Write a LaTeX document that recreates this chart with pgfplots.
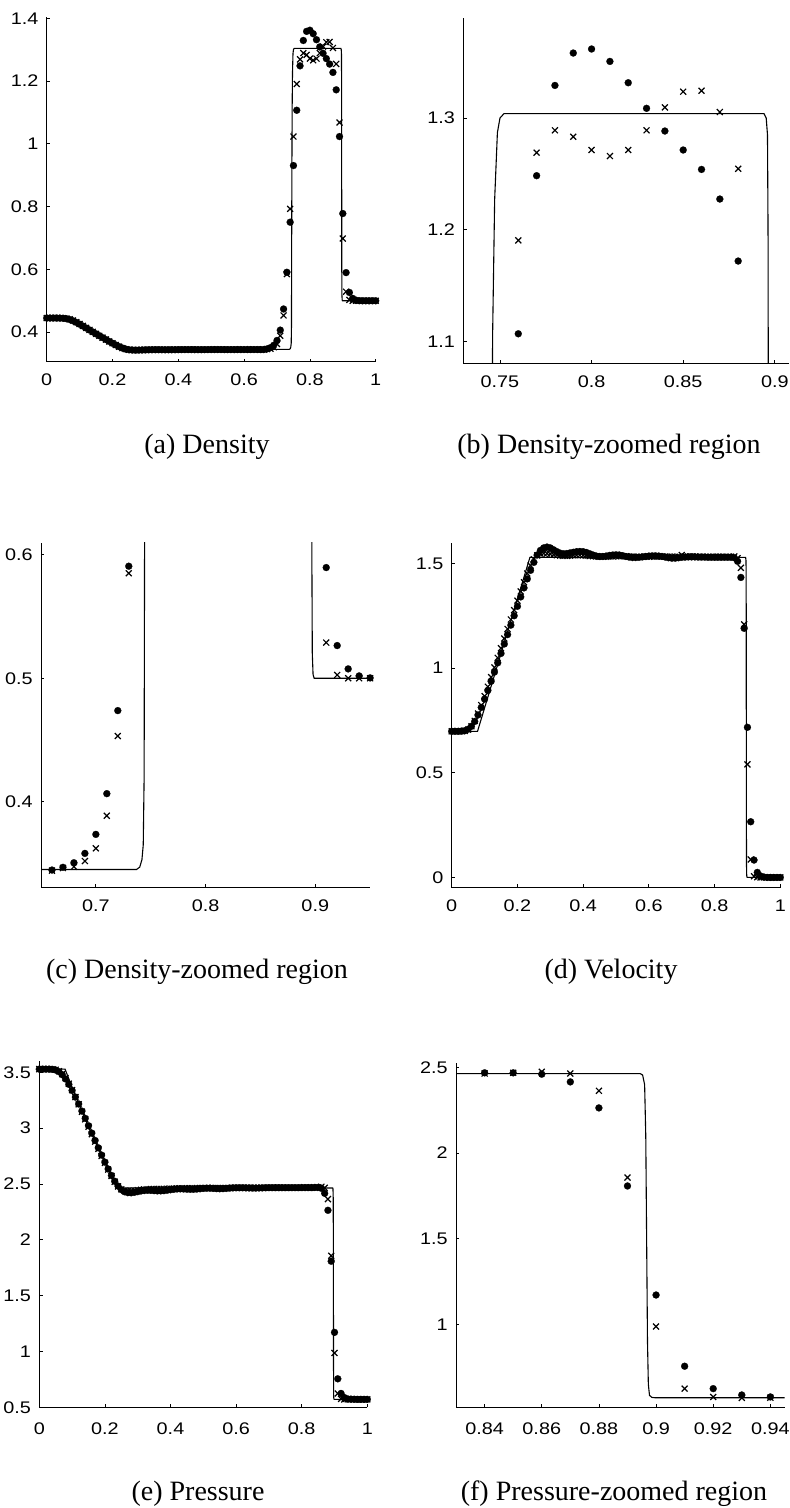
\documentclass[border=0pt]{standalone}
\usepackage{pgfplots}
\pgfplotsset{compat=1.18}
\usepackage{pgfplotstable}
\usepackage{fontspec}
\setmainfont{Liberation Serif}
\newfontfamily\ticksans{Liberation Sans}

\pgfplotstableread{
x rd rc ud uc pd pc
0.00 0.4450 0.4450 0.698 0.698 3.528 3.528
0.01 0.4450 0.4450 0.698 0.698 3.528 3.528
0.02 0.4450 0.4450 0.698 0.698 3.528 3.528
0.03 0.4450 0.4450 0.699 0.698 3.528 3.528
0.04 0.4448 0.4449 0.701 0.700 3.526 3.527
0.05 0.4442 0.4445 0.708 0.706 3.520 3.523
0.06 0.4428 0.4435 0.722 0.722 3.505 3.510
0.07 0.4402 0.4412 0.745 0.748 3.478 3.485
0.08 0.4362 0.4372 0.776 0.783 3.440 3.448
0.09 0.4312 0.4320 0.812 0.823 3.392 3.398
0.10 0.4255 0.4262 0.852 0.866 3.337 3.340
0.11 0.4194 0.4200 0.893 0.911 3.278 3.278
0.12 0.4132 0.4136 0.937 0.957 3.216 3.213
0.13 0.4070 0.4072 0.981 1.003 3.152 3.146
0.14 0.4008 0.4009 1.025 1.049 3.087 3.079
0.15 0.3946 0.3946 1.070 1.095 3.021 3.012
0.16 0.3885 0.3884 1.115 1.141 2.955 2.945
0.17 0.3825 0.3823 1.160 1.187 2.889 2.879
0.18 0.3765 0.3763 1.205 1.232 2.823 2.814
0.19 0.3706 0.3704 1.250 1.277 2.758 2.750
0.20 0.3648 0.3646 1.295 1.322 2.695 2.688
0.21 0.3592 0.3590 1.340 1.366 2.634 2.628
0.22 0.3540 0.3537 1.383 1.410 2.576 2.571
0.23 0.3495 0.3491 1.426 1.452 2.524 2.519
0.24 0.3460 0.3458 1.467 1.490 2.481 2.478
0.25 0.3440 0.3440 1.505 1.520 2.449 2.452
0.26 0.3430 0.3433 1.540 1.538 2.430 2.440
0.27 0.3427 0.3432 1.562 1.546 2.422 2.437
0.28 0.3428 0.3434 1.574 1.548 2.421 2.438
0.29 0.3431 0.3437 1.578 1.547 2.425 2.441
0.30 0.3435 0.3440 1.574 1.545 2.431 2.445
0.31 0.3438 0.3442 1.565 1.542 2.437 2.448
0.32 0.3440 0.3443 1.556 1.539 2.441 2.451
0.33 0.3441 0.3444 1.549 1.537 2.443 2.453
0.34 0.3441 0.3444 1.546 1.536 2.442 2.454
0.35 0.3440 0.3444 1.547 1.536 2.440 2.455
0.36 0.3439 0.3443 1.550 1.537 2.438 2.455
0.37 0.3439 0.3443 1.553 1.538 2.438 2.455
0.38 0.3440 0.3443 1.556 1.539 2.440 2.456
0.39 0.3441 0.3444 1.557 1.539 2.444 2.457
0.40 0.3443 0.3444 1.556 1.538 2.448 2.458
0.41 0.3444 0.3445 1.552 1.537 2.452 2.459
0.42 0.3445 0.3445 1.546 1.535 2.455 2.460
0.43 0.3445 0.3445 1.540 1.534 2.456 2.461
0.44 0.3444 0.3445 1.535 1.533 2.455 2.461
0.45 0.3443 0.3445 1.533 1.532 2.453 2.462
0.46 0.3442 0.3445 1.533 1.532 2.452 2.462
0.47 0.3442 0.3445 1.535 1.532 2.452 2.462
0.48 0.3443 0.3445 1.538 1.533 2.454 2.463
0.49 0.3444 0.3446 1.540 1.533 2.457 2.463
0.50 0.3445 0.3446 1.541 1.534 2.460 2.463
0.51 0.3446 0.3446 1.540 1.534 2.462 2.463
0.52 0.3446 0.3446 1.537 1.534 2.462 2.463
0.53 0.3446 0.3446 1.533 1.534 2.460 2.464
0.54 0.3445 0.3446 1.530 1.533 2.458 2.464
0.55 0.3444 0.3446 1.528 1.533 2.457 2.464
0.56 0.3444 0.3446 1.528 1.532 2.458 2.464
0.57 0.3444 0.3446 1.529 1.532 2.460 2.464
0.58 0.3445 0.3446 1.531 1.532 2.463 2.464
0.59 0.3445 0.3446 1.533 1.532 2.465 2.464
0.60 0.3446 0.3446 1.535 1.532 2.466 2.465
0.61 0.3446 0.3446 1.536 1.533 2.466 2.465
0.62 0.3446 0.3446 1.536 1.533 2.466 2.465
0.63 0.3446 0.3446 1.535 1.533 2.465 2.465
0.64 0.3446 0.3445 1.533 1.533 2.464 2.465
0.65 0.3446 0.3444 1.530 1.533 2.463 2.465
0.66 0.3446 0.3441 1.527 1.532 2.463 2.465
0.67 0.3468 0.3462 1.525 1.532 2.464 2.465
0.68 0.3505 0.3473 1.525 1.532 2.465 2.465
0.69 0.3581 0.3519 1.527 1.532 2.466 2.465
0.70 0.3735 0.3622 1.529 1.540 2.467 2.465
0.71 0.4065 0.3886 1.530 1.533 2.467 2.465
0.72 0.4738 0.4532 1.531 1.533 2.467 2.465
0.73 0.5908 0.5851 1.531 1.533 2.467 2.465
0.74 0.7503 0.7928 1.531 1.533 2.467 2.465
0.75 0.9308 1.0231 1.530 1.532 2.467 2.465
0.76 1.1069 1.1905 1.530 1.532 2.467 2.465
0.77 1.2484 1.2690 1.530 1.532 2.467 2.465
0.78 1.3292 1.2890 1.529 1.532 2.467 2.465
0.79 1.3582 1.2833 1.529 1.532 2.467 2.465
0.80 1.3618 1.2714 1.529 1.532 2.468 2.465
0.81 1.3507 1.2660 1.529 1.532 2.468 2.465
0.82 1.3316 1.2714 1.529 1.532 2.468 2.465
0.83 1.3087 1.2890 1.529 1.532 2.468 2.465
0.84 1.2884 1.3095 1.529 1.532 2.469 2.465
0.85 1.2714 1.3236 1.529 1.532 2.469 2.469
0.86 1.2540 1.3245 1.527 1.533 2.461 2.475
0.87 1.2275 1.3054 1.510 1.525 2.416 2.465
0.88 1.1720 1.2546 1.433 1.479 2.264 2.364
0.89 1.0231 1.0677 1.190 1.209 1.808 1.857
0.90 0.7779 0.6983 0.717 0.540 1.171 0.987
0.91 0.5897 0.5289 0.266 0.086 0.755 0.624
0.92 0.5265 0.5027 0.083 0.006 0.624 0.5755
0.93 0.5076 0.5000 0.024 0.001 0.587 0.570
0.94 0.5019 0.5000 0.007 0.000 0.5755 0.571
0.95 0.5003 0.5000 0.002 0.000 0.573 0.571
0.96 0.5000 0.5000 0.000 0.000 0.572 0.571
0.97 0.5000 0.5000 0.000 0.000 0.571 0.571
0.98 0.5000 0.5000 0.000 0.000 0.571 0.571
0.99 0.5000 0.5000 0.000 0.000 0.571 0.571
1.00 0.5000 0.5000 0.000 0.000 0.571 0.571
}\num

\pgfplotstableread{
x y
0.0000 0.4450
0.0786 0.4450
0.0900 0.4372
0.1000 0.4303
0.1100 0.4236
0.1200 0.4169
0.1300 0.4104
0.1400 0.4039
0.1500 0.3975
0.1600 0.3912
0.1700 0.3850
0.1800 0.3788
0.1900 0.3727
0.2000 0.3667
0.2100 0.3608
0.2200 0.3550
0.2300 0.3492
0.2380 0.3450
0.7370 0.3450
0.7400 0.3470
0.7420 0.3530
0.7432 0.3650
0.7440 0.4200
0.7445 0.6500
0.7452 0.9000
0.7460 1.1070
0.7471 1.2270
0.7486 1.2870
0.7500 1.3000
0.7522 1.3040
0.8941 1.3040
0.8953 1.3000
0.8960 1.2850
0.8963 1.2000
0.8966 0.9000
0.8969 0.6000
0.8973 0.5200
0.8980 0.5030
0.8990 0.5000
1.0000 0.5000
}\exrho

\pgfplotstableread{
x y
0.0000 0.6980
0.0786 0.6980
0.1000 0.8093
0.1500 1.0697
0.2000 1.3301
0.2380 1.5285
0.8945 1.5285
0.8955 1.5150
0.8961 1.4500
0.8964 1.0000
0.8967 0.4000
0.8971 0.0600
0.8978 0.0080
0.8990 0.0000
1.0000 0.0000
}\exu

\pgfplotstableread{
x y
0.0000 3.5280
0.0786 3.5280
0.0900 3.4412
0.1000 3.3663
0.1100 3.2930
0.1200 3.2206
0.1300 3.1500
0.1400 3.0807
0.1500 3.0126
0.1600 2.9455
0.1700 2.8802
0.1800 2.8158
0.1900 2.7530
0.2000 2.6912
0.2100 2.6307
0.2200 2.5708
0.2300 2.5127
0.2380 2.4650
0.8945 2.4640
0.8953 2.4560
0.8960 2.4000
0.8964 2.1000
0.8967 1.5000
0.8970 0.9000
0.8973 0.6500
0.8977 0.5850
0.8985 0.5730
0.8995 0.5710
1.0000 0.5710
}\exp

\pgfplotsset{
  panel/.style={
    scale only axis, anchor=south west,
    axis x line*=bottom, axis y line*=left,
    xtick pos=left, ytick pos=left,
    tick align=inside, major tick length=1.7pt,
    axis line style={line width=0.5pt, black},
    every tick/.style={black, line width=0.4pt},
    tick label style={font=\ticksans\fontsize{8.4}{10}\selectfont, xscale=1.18},
    /pgf/number format/assume math mode=true,
    scaled ticks=false,
    clip mode=individual,
    xticklabel style={yshift=-2.6pt},
  },
  dots/.style={only marks, mark=*, mark size=1.75pt, mark options={fill=black, draw=black, line width=0.1pt}},
  crosses/.style={only marks, mark=x, mark size=2.1pt, mark options={line width=0.6pt, draw=black}},
  exact/.style={black, line width=0.55pt, mark=none},
}

\begin{document}
\begin{tikzpicture}
\useasboundingbox (0,0) rectangle (394.5pt,754pt);

% (a) Density
\begin{axis}[panel, at={(23.35pt,573pt)}, width=164.5pt, height=172.65pt,
  xmin=0, xmax=1, ymin=0.305, ymax=1.405,
  xtick={0,0.2,0.4,0.6,0.8,1}, ytick={0.4,0.6,0.8,1,1.2,1.4}]
\addplot[exact] table[x=x,y=y] {\exrho};
\addplot[dots] table[x=x,y=rd] {\num};
\addplot[crosses] table[x=x,y=rc] {\num};
\end{axis}

% (b) Density zoomed
\begin{axis}[panel, at={(231.65pt,572.35pt)}, width=162.8pt, height=172.6pt,
  xmin=0.73, xmax=0.9077, ymin=1.0805, ymax=1.3895,
  xtick={0.75,0.8,0.85,0.9}, ytick={1.1,1.2,1.3}]
\addplot[exact] table[x=x,y=y] {\exrho};
\addplot[dots, restrict x to domain=0.735:0.905, restrict y to domain=1.0805:1.3895] table[x=x,y=rd] {\num};
\addplot[crosses, restrict x to domain=0.735:0.905, restrict y to domain=1.0805:1.3895] table[x=x,y=rc] {\num};
\end{axis}

% (c) Density zoomed
\begin{axis}[panel, at={(20.5pt,310.15pt)}, width=164.55pt, height=172.4pt,
  xmin=0.65, xmax=0.95, ymin=0.3303, ymax=0.6097,
  xtick={0.7,0.8,0.9}, ytick={0.4,0.5,0.6}]
\addplot[exact] table[x=x,y=y] {\exrho};
\addplot[dots, restrict x to domain=0.655:0.955, restrict y to domain=0.3303:0.6097] table[x=x,y=rd] {\num};
\addplot[crosses, restrict x to domain=0.655:0.955, restrict y to domain=0.3303:0.6097] table[x=x,y=rc] {\num};
\end{axis}

% (d) Velocity
\begin{axis}[panel, at={(225.85pt,310.15pt)}, width=164.3pt, height=172.3pt,
  xmin=0, xmax=1, ymin=-0.049, ymax=1.597,
  xtick={0,0.2,0.4,0.6,0.8,1}, ytick={0,0.5,1,1.5}]
\addplot[exact] table[x=x,y=y] {\exu};
\addplot[dots] table[x=x,y=ud] {\num};
\addplot[crosses] table[x=x,y=uc] {\num};
\end{axis}

% (e) Pressure
\begin{axis}[panel, at={(19.65pt,50.35pt)}, width=164pt, height=173.1pt,
  xmin=0, xmax=1, ymin=0.5, ymax=3.6,
  xtick={0,0.2,0.4,0.6,0.8,1}, ytick={0.5,1,1.5,2,2.5,3,3.5},
  xticklabel style={yshift=-1.6pt}]
\addplot[exact] table[x=x,y=y] {\exp};
\addplot[dots] table[x=x,y=pd] {\num};
\addplot[crosses] table[x=x,y=pc] {\num};
\end{axis}

% (f) Pressure zoomed
\begin{axis}[panel, at={(228pt,50.35pt)}, width=164.3pt, height=172.2pt,
  xmin=0.83, xmax=0.945, ymin=0.515, ymax=2.527,
  xtick={0.84,0.86,0.88,0.9,0.92,0.94}, ytick={1,1.5,2,2.5},
  xticklabel style={yshift=-1.6pt}]
\addplot[exact] table[x=x,y=y] {\exp};
\addplot[dots, restrict x to domain=0.835:0.945] table[x=x,y=pd] {\num};
\addplot[crosses, restrict x to domain=0.835:0.945] table[x=x,y=pc] {\num};
\end{axis}

\node[anchor=base, font=\fontsize{14}{16}\selectfont] at (103.5pt,527pt) {(a) Density};
\node[anchor=base, font=\fontsize{14}{16}\selectfont] at (304.5pt,527pt) {(b) Density-zoomed region};
\node[anchor=base, font=\fontsize{14}{16}\selectfont] at (98.5pt,264.5pt) {(c) Density-zoomed region};
\node[anchor=base, font=\fontsize{14}{16}\selectfont] at (305.5pt,264.5pt) {(d) Velocity};
\node[anchor=base, font=\fontsize{14}{16}\selectfont] at (99pt,4pt) {(e) Pressure};
\node[anchor=base, font=\fontsize{14}{16}\selectfont] at (307pt,4pt) {(f) Pressure-zoomed region};
\end{tikzpicture}
\end{document}
